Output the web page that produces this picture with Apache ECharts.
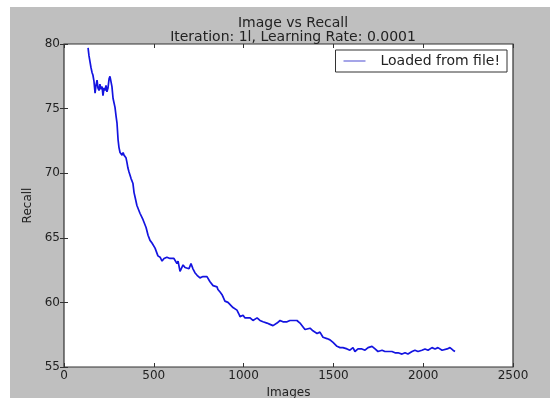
<!DOCTYPE html>
<html>
<head>
<meta charset="utf-8">
<script src="https://cdn.jsdelivr.net/npm/echarts@6/dist/echarts.min.js"></script>
<style>
  html, body { margin: 0; padding: 0; background: #ffffff; }
  #chart { width: 550px; height: 398px; }
</style>
</head>
<body>
<div id="chart"></div>
<script>
// Recall measured against number of images seen
const images = [134,139,150,156,161,167,173,178,184,189,195,200,206,212,217,223,228,234,239,245,
  251,256,262,267,273,278,284,290,295,301,306,312,317,323,329,334,340,345,351,356,
  362,373,384,390,395,406,412,423,429,440,457,468,479,490,507,512,523,535,546,557,
  562,573,579,590,601,612,629,635,646,652,663,674,685,696,707,718,729,741,757,774,
  785,796,813,830,852,857,869,880,896,913,924,941,952,963,974,980,997,1008,1019,1036,
  1052,1063,1075,1091,1108,1130,1147,1164,1175,1186,1203,1219,1230,1242,1258,1275,1286,1297,1314,1331,
  1342,1353,1370,1386,1409,1425,1442,1464,1481,1498,1520,1537,1553,1576,1592,1609,1620,1637,1659,1676,
  1693,1715,1732,1748,1771,1787,1804,1826,1843,1860,1882,1899,1915,1938,1954,1971,1993,2010,2027,2049,
  2066,2082,2105,2116,2133,2149,2166,2177];
const recall = [79.7,79.1,78.2,77.8,77.6,77.1,76.2,76.8,77.2,76.6,76.4,76.9,76.5,76.7,76.0,76.6,76.4,76.8,76.3,76.6,
  77.3,77.5,77.4,76.7,75.8,75.7,75.1,74.4,73.9,72.6,72.0,71.6,71.7,71.4,71.6,71.4,71.5,71.2,70.8,70.4,
  70.1,69.6,69.2,68.5,68.2,67.5,67.4,66.9,66.8,66.4,65.8,65.2,64.8,64.6,64.2,64.3,63.6,63.5,63.2,63.4,
  63.3,63.5,63.6,63.4,63.5,63.4,63.0,63.2,62.4,62.5,62.9,62.7,62.8,62.6,63.0,62.6,62.3,62.1,61.9,62.0,
  61.9,62.0,61.6,61.3,61.2,61.0,60.8,60.6,60.1,60.0,59.9,59.6,59.6,59.4,59.1,58.9,59.0,58.8,58.9,58.8,
  58.6,58.7,58.8,58.6,58.5,58.4,58.3,58.2,58.3,58.4,58.6,58.5,58.6,58.5,58.6,58.6,58.5,58.6,58.4,58.1,
  57.9,57.9,58.0,57.8,57.6,57.7,57.3,57.2,57.1,56.9,56.6,56.5,56.5,56.4,56.3,56.5,56.2,56.4,56.4,56.3,
  56.5,56.6,56.4,56.2,56.3,56.2,56.2,56.2,56.1,56.1,56.0,56.1,56.0,56.2,56.3,56.2,56.3,56.4,56.3,56.5,
  56.4,56.5,56.3,56.2,56.4,56.5,56.3,56.2];
const xTicks = [0, 500, 1000, 1500, 2000, 2500];
const yTicks = [55, 60, 65, 70, 75, 80];

const FONT = 'DejaVu Sans';
const INK = '#222222';
const FRAME = '#333333';

const chart = echarts.init(document.getElementById('chart'), null, { renderer: 'canvas' });

const tickStyle = { show: true, inside: true, length: 4, lineStyle: { color: FRAME, width: 1 } };

chart.setOption({
  animation: false,
  backgroundColor: '#ffffff',
  graphic: [{
    type: 'rect', z: -10, silent: true,
    shape: { x: 10, y: 7, width: 540, height: 391 },
    style: { fill: '#bfbfbf' }
  }],
  title: {
    text: 'Image vs Recall\nIteration: 1l, Learning Rate: 0.0001',
    left: 288, top: 11, textAlign: 'center',
    textStyle: { fontFamily: FONT, fontSize: 14, fontWeight: 'normal', color: INK, lineHeight: 14 }
  },
  legend: {
    data: ['Loaded from file!'],
    right: 43, top: 50,
    orient: 'vertical',
    backgroundColor: '#ffffff',
    borderColor: FRAME, borderWidth: 1, borderRadius: 0,
    padding: [4, 7, 4, 8],
    itemWidth: 22, itemHeight: 12,
    icon: 'path://M0,5 L22,5 L22,6 L0,6 Z',
    textStyle: { fontFamily: FONT, fontSize: 14, color: INK, padding: [0, 0, 0, 10] }
  },
  grid: {
    left: 64, right: 37, top: 44, bottom: 31,
    outerBoundsMode: 'none',
    containLabel: false,
    show: true, backgroundColor: '#ffffff', borderColor: FRAME, borderWidth: 1.2
  },
  xAxis: [{
    type: 'value', min: 0, max: 2500, interval: 500,
    name: 'Images', nameLocation: 'middle', nameGap: 20,
    nameTextStyle: { fontFamily: FONT, fontSize: 12, color: INK },
    axisLine: { show: false },
    axisTick: tickStyle,
    splitLine: { show: false },
    axisLabel: {
      fontFamily: FONT, fontSize: 12, color: INK, margin: 3,
      formatter: v => (xTicks.indexOf(v) >= 0 ? String(v) : '')
    }
  }, {
    type: 'value', position: 'top', min: 0, max: 2500, interval: 500,
    axisLine: { show: false }, axisTick: tickStyle,
    axisLabel: { show: false }, splitLine: { show: false }
  }],
  yAxis: [{
    type: 'value', min: 55, max: 80, interval: 5,
    name: 'Recall', nameLocation: 'middle', nameGap: 24, nameRotate: 90,
    nameTextStyle: { fontFamily: FONT, fontSize: 12, color: INK },
    axisLine: { show: false },
    axisTick: tickStyle,
    splitLine: { show: false },
    axisLabel: {
      fontFamily: FONT, fontSize: 12, color: INK, margin: 4,
      formatter: v => (yTicks.indexOf(v) >= 0 ? String(v) : '')
    }
  }, {
    type: 'value', position: 'right', min: 55, max: 80, interval: 5,
    axisLine: { show: false }, axisTick: tickStyle,
    axisLabel: { show: false }, splitLine: { show: false }
  }],
  series: [{
    name: 'Loaded from file!',
    type: 'line',
    data: images.map((x, i) => [x, recall[i]]),
    showSymbol: false,
    smooth: false,
    color: '#4a4ad0',
    lineStyle: { color: '#1414e0', width: 1.7 }
  }]
});
</script>
</body>
</html>
